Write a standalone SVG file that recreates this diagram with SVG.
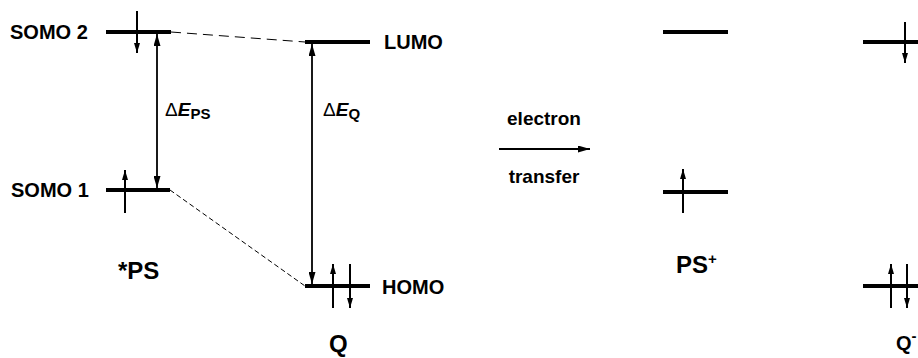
<svg xmlns="http://www.w3.org/2000/svg" width="918" height="358" viewBox="0 0 918 358">
<defs>
<marker id="ah" viewBox="0 0 10 6" refX="10" refY="3" markerWidth="10" markerHeight="6" markerUnits="userSpaceOnUse" orient="auto-start-reverse">
<path d="M0,0 L10,3 L0,6 Z" fill="#000"/>
</marker>
<marker id="ah2" viewBox="0 0 12 7" refX="12" refY="3.5" markerWidth="12" markerHeight="7" markerUnits="userSpaceOnUse" orient="auto-start-reverse">
<path d="M0,0 L12,3.5 L0,7 Z" fill="#000"/>
</marker>
<style>
.lvl{stroke:#000;stroke-width:4;fill:none}
.spin{stroke:#000;stroke-width:2;fill:none;marker-end:url(#ah)}
.lbl{font-family:"Liberation Sans",Arial,sans-serif;font-weight:bold;font-size:20px;fill:#000}
.big{font-size:24px}
.sm{font-family:"Liberation Sans",Arial,sans-serif;font-size:19px;fill:#000}
.conn{stroke:#000;stroke-width:1.8;fill:none}
</style>
</defs>
<rect width="918" height="358" fill="#fff"/>
<g id="connectors">
<line x1="171" y1="32" x2="305" y2="42" stroke="#000" stroke-width="1" stroke-dasharray="10,6"/>
<line x1="170" y1="190" x2="305" y2="286" stroke="#000" stroke-width="1" stroke-dasharray="5,3"/>
<line class="conn" x1="157" y1="34" x2="157" y2="188" marker-start="url(#ah2)" marker-end="url(#ah2)"/>
<line class="conn" x1="312" y1="44" x2="312" y2="284" marker-start="url(#ah2)" marker-end="url(#ah2)"/>
<line class="conn" x1="499" y1="149" x2="590" y2="149" marker-end="url(#ah2)"/>
</g>
<g id="somo2">
<line class="lvl" x1="106" y1="32" x2="171" y2="32"/>
<line class="spin" x1="137" y1="11" x2="137" y2="53"/>
<text class="lbl" x="10" y="39">SOMO 2</text>
</g>
<g id="somo1">
<line class="lvl" x1="106" y1="190" x2="170" y2="190"/>
<line class="spin" x1="125" y1="213" x2="125" y2="170"/>
<text class="lbl" x="11" y="197">SOMO 1</text>
</g>
<g id="lumo">
<line class="lvl" x1="305" y1="42" x2="370" y2="42"/>
<text class="lbl" x="384" y="49">LUMO</text>
</g>
<g id="homo">
<line class="lvl" x1="305" y1="286" x2="370" y2="286"/>
<line class="spin" x1="333" y1="308" x2="333" y2="264"/>
<line class="spin" x1="350" y1="264" x2="350" y2="308"/>
<text class="lbl" x="382" y="294">HOMO</text>
</g>
<g id="dEPS">
<text class="sm" x="165" y="116">Δ<tspan font-style="italic" font-weight="bold">E</tspan><tspan font-weight="bold" font-size="15" dy="3">PS</tspan></text>
</g>
<g id="dEQ">
<text class="sm" x="323" y="116">Δ<tspan font-style="italic" font-weight="bold">E</tspan><tspan font-weight="bold" font-size="15" dy="3">Q</tspan></text>
</g>
<g id="ps-label"><text class="lbl big" x="118" y="279">*PS</text></g>
<g id="q-label"><text class="lbl big" x="329" y="352">Q</text></g>
<g id="et-label">
<text class="sm" x="544" y="125" text-anchor="middle" font-weight="bold" font-size="20">electron</text>
<text class="sm" x="544" y="183" text-anchor="middle" font-weight="bold" font-size="20">transfer</text>
</g>
<g id="psplus-upper"><line class="lvl" x1="663" y1="32" x2="728" y2="32"/></g>
<g id="psplus-lower">
<line class="lvl" x1="663" y1="192" x2="728" y2="192"/>
<line class="spin" x1="683" y1="213" x2="683" y2="169"/>
</g>
<g id="psplus-label"><text class="lbl big" x="676" y="273">PS<tspan font-size="15" dy="-9">+</tspan></text></g>
<g id="qminus-upper">
<line class="lvl" x1="863" y1="42" x2="918" y2="42"/>
<line class="spin" x1="905" y1="22" x2="905" y2="63"/>
</g>
<g id="qminus-lower">
<line class="lvl" x1="863" y1="286" x2="918" y2="286"/>
<line class="spin" x1="891" y1="308" x2="891" y2="264"/>
<line class="spin" x1="907" y1="264" x2="907" y2="308"/>
</g>
<g id="qminus-label"><text class="lbl" x="896" y="350" font-size="21">Q<tspan font-size="15" dy="-9">-</tspan></text></g>
</svg>
